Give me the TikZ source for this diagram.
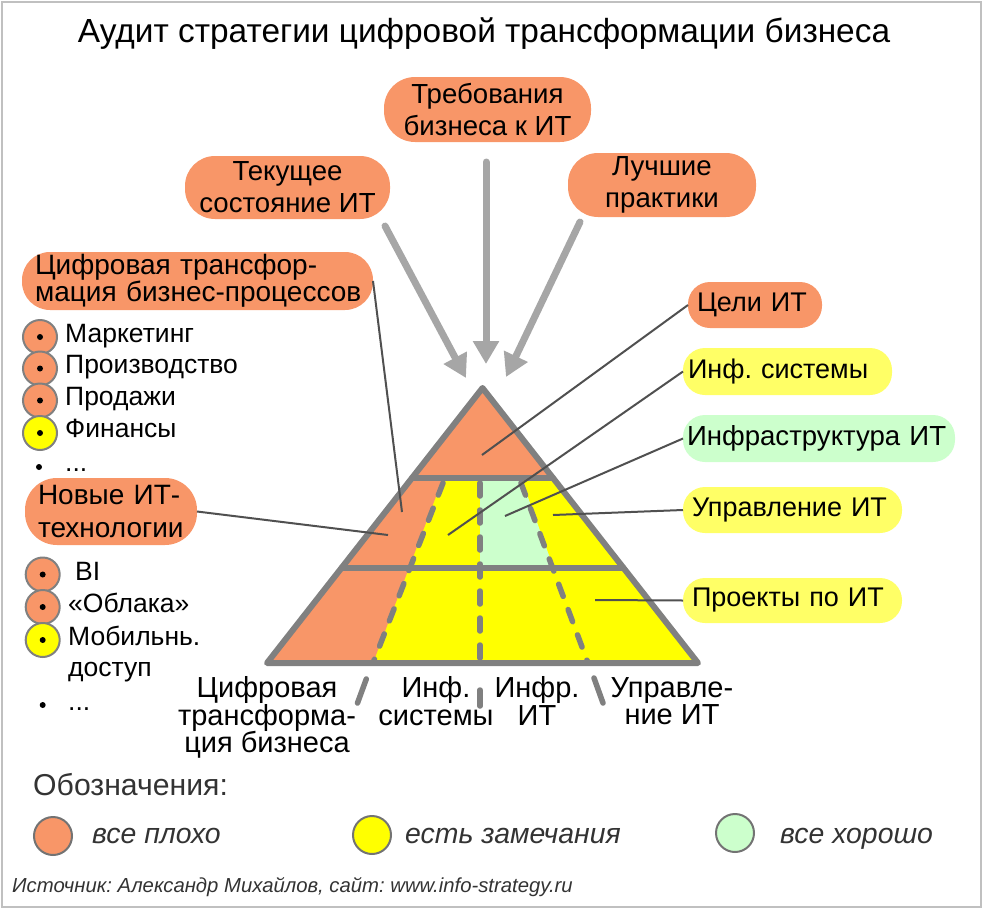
\documentclass[tikz,border=0pt]{standalone}
\usepackage{fontspec}
\setmainfont{Liberation Sans}
\usetikzlibrary{arrows.meta}
\definecolor{orng}{RGB}{248,150,104}
\definecolor{ylw}{RGB}{255,255,0}
\definecolor{ylwbox}{RGB}{255,255,102}
\definecolor{grn}{RGB}{204,255,204}
\definecolor{pyrgray}{RGB}{128,128,128}
\definecolor{arrgray}{RGB}{166,166,166}
\definecolor{lnk}{RGB}{80,80,80}
\definecolor{framegray}{RGB}{192,192,192}
\definecolor{txtg}{RGB}{51,51,51}
\newcommand\myfs[2]{\fontsize{#1}{#2}\selectfont}
\frenchspacing
\begin{document}
\begin{tikzpicture}[x=1pt,y=-1pt,
  pill/.style={rectangle, rounded corners=#1, inner sep=0pt, outer sep=0pt},
  lbl/.style={font=\myfs{27}{32}},
  lblt/.style={font=\myfs{27.6}{32}},
  bigarr/.style={draw=arrgray, line width=7pt, line cap=round, -{Triangle[width=25pt,length=23pt]}},
  link/.style={draw=lnk, line width=2pt},
  pyrline/.style={draw=pyrgray, line width=6pt, line cap=round, line join=round},
  dashln/.style={draw=pyrgray, line width=5.5pt, line cap=round, dash pattern=on 13pt off 14pt},
  stub/.style={draw=pyrgray, line width=5.5pt, line cap=round},
  bul/.style={circle, draw=pyrgray, line width=2pt, minimum size=34pt, inner sep=0pt},
  legc/.style={circle, draw=pyrgray!90!black, line width=2pt, minimum size=38pt, inner sep=0pt},
  item/.style={anchor=base west, inner sep=0pt, font=\myfs{26.5}{30}},
  legt/.style={anchor=base west, inner sep=0pt, text=txtg, font=\myfs{28.4}{30}\itshape},
  botl/.style={align=center, inner sep=0pt, font=\myfs{29}{27.5}}
]
\useasboundingbox (0,0) rectangle (983,908);
\draw[draw=framegray, line width=2pt] (1.5,1.5) rectangle (980.5,906.5);

% title
\node[anchor=base, inner sep=0pt, font=\myfs{33.4}{36}] (title) at (484,42) {Аудит стратегии цифровой трансформации бизнеса};

% top boxes
\node[pill=31, fill=orng, minimum width=207pt, minimum height=65pt, align=center, lblt] (req) at (487.5,109.5) {Требования\\бизнеса к ИТ};
\node[pill=30, fill=orng, minimum width=205pt, minimum height=63pt, align=center, lblt] (cur) at (287.5,187.5) {Текущее\\состояние ИТ};
\node[pill=30, fill=orng, minimum width=188pt, minimum height=64pt, align=center, lblt] (best) at (662,185) {Лучшие\\практики};

% left boxes
\node[pill=28, fill=orng, anchor=west, minimum height=58pt, inner xsep=13pt, text width=325pt, align=left, font=\myfs{28}{27}] (dtbp) at (22,281) {\mbox{Цифровая трансфор-}\\\mbox{мация бизнес-процессов}};
\node[pill=32, fill=orng, anchor=west, minimum height=67pt, inner xsep=13pt, text width=146pt, align=left, font=\myfs{28}{33}] (nit) at (25,511.5) {\mbox{Новые ИТ-}\\\mbox{технологии}};

% right boxes
\node[pill=22, fill=orng, anchor=west, minimum height=46pt, inner xsep=9pt, text width=116pt, align=left, lbl] (goals) at (688,305) {Цели ИТ};
\node[pill=22, fill=ylwbox, anchor=west, minimum height=47pt, inner xsep=5pt, text width=199pt, align=left, lbl] (infsys) at (683,371.5) {Инф. системы};
\node[pill=22, fill=grn, anchor=west, minimum height=47pt, inner xsep=4pt, text width=264pt, align=left, font=\myfs{27.6}{32}] (infra) at (683,438.5) {Инфраструктура ИТ};
\node[pill=22, fill=ylwbox, anchor=west, minimum height=46pt, inner xsep=9pt, text width=201pt, align=left, lbl] (mgmt) at (683,510) {Управление ИТ};
\node[pill=22, fill=ylwbox, anchor=west, minimum height=45pt, inner xsep=9pt, text width=201pt, align=left, lbl] (proj) at (683,600.5) {Проекты по ИТ};

% big arrows
\coordinate (a1s) at (385,226);
\coordinate (a1e) at (466,378);
\coordinate (a2s) at (486,162);
\coordinate (a2e) at (486,364);
\coordinate (a3s) at (580,222);
\coordinate (a3e) at (506,377);
\draw[bigarr] (a1s) -- (a1e);
\draw[bigarr] (a2s) -- (a2e);
\draw[bigarr] (a3s) -- (a3e);

% pyramid fills
\fill[ylw] (482.5,388) -- (267,663) -- (698,663) -- cycle;
\fill[orng] (482.5,388) -- (553,478) -- (443,478) -- (373,663) -- (267,663) -- cycle;
\fill[grn] (480,478) -- (521,478) -- (553.6,568) -- (480,568) -- cycle;
% dashed column lines
\draw[dashln] (443,483) -- (373,663);
\draw[dashln] (480,483) -- (480,663);
\draw[dashln] (521,483) -- (588,663);
\draw[stub] (366.3,679) -- (357.5,703);
\draw[stub] (480,690) -- (480,706);
\draw[stub] (594,678) -- (603,703);
% tier lines and outline
\draw[pyrline] (412,478) -- (553,478);
\draw[pyrline] (341.5,568) -- (623.5,568);
\draw[pyrline] (482.5,388) -- (267,663) -- (698,663) -- cycle;

% connectors
\coordinate (pdtbp) at (402,512);
\coordinate (pnit) at (388,535);
\coordinate (pgoals) at (482,455);
\coordinate (pinfsys) at (448,535);
\coordinate (pinfra) at (505,516);
\coordinate (pmgmt) at (553,515);
\coordinate (pproj) at (595,600);
\draw[link] (dtbp.east) -- (pdtbp);
\draw[link] (nit.east) -- (pnit);
\draw[link] (goals.west) -- (pgoals);
\draw[link] (infsys.west) -- (pinfsys);
\draw[link] (infra.west) -- (pinfra);
\draw[link] (mgmt.west) -- (pmgmt);
\draw[link] (proj.west) -- (pproj);

% bottom labels
\node[botl] (lb1) at (267,717.5) {Цифровая\\трансформа-\\ция бизнеса};
\node[botl] (lb2) at (436,701) {Инф.\\системы};
\node[botl] (lb3) at (537,701) {Инфр.\\ИТ};
\node[botl] (lb4) at (672,701) {Управле-\\ние ИТ};

% list 1
\node[bul, fill=orng] (c1) at (40,337) {};
\fill[black] (c1.center) circle[radius=3];
\node[bul, fill=orng] (c2) at (40,368.5) {};
\fill[black] (c2.center) circle[radius=3];
\node[bul, fill=orng] (c3) at (40,400.5) {};
\fill[black] (c3.center) circle[radius=3];
\node[bul, fill=ylw] (c4) at (40,433) {};
\fill[black] (c4.center) circle[radius=3];
\fill[black] (39,467) circle[radius=3];
\node[item] (t1) at (65,342) {Маркетинг};
\node[item] (t2) at (65,373.5) {Производство};
\node[item] (t3) at (65,405) {Продажи};
\node[item] (t4) at (65,437.5) {Финансы};
\node[item] (t5) at (65,471.5) {...};

% list 2
\node[bul, fill=orng] (d1) at (42.7,574.5) {};
\fill[black] (d1.center) circle[radius=3];
\node[bul, fill=orng] (d2) at (42.7,607) {};
\fill[black] (d2.center) circle[radius=3];
\node[bul, fill=ylw] (d3) at (42.7,640) {};
\fill[black] (d3.center) circle[radius=3];
\fill[black] (42.7,705) circle[radius=3];
\node[item] (u1) at (75,580.5) {BI};
\node[item] (u2) at (68,612.5) {«Облака»};
\node[item] (u3) at (68,645) {Мобильнь.};
\node[item] (u4) at (68,676.5) {доступ};
\node[item] (u5) at (68,710) {...};

% legend
\node[anchor=base west, inner sep=0pt, text=txtg, font=\myfs{30.2}{32}] (legh) at (33,795) {Обозначения:};
\node[legc, fill=orng] (l1) at (53,836) {};
\node[legc, fill=ylw] (l2) at (372,835) {};
\node[legc, fill=grn] (l3) at (735,833) {};
\node[legt] (lt1) at (92,843) {все плохо};
\node[legt] (lt2) at (405,843) {есть замечания};
\node[legt] (lt3) at (780,843) {все хорошо};

% source
\node[anchor=base west, inner sep=0pt, text=txtg, font=\myfs{20.3}{22}\itshape] (src) at (12,892) {Источник: Александр Михайлов, сайт: www.info-strategy.ru};
\end{tikzpicture}
\end{document}
